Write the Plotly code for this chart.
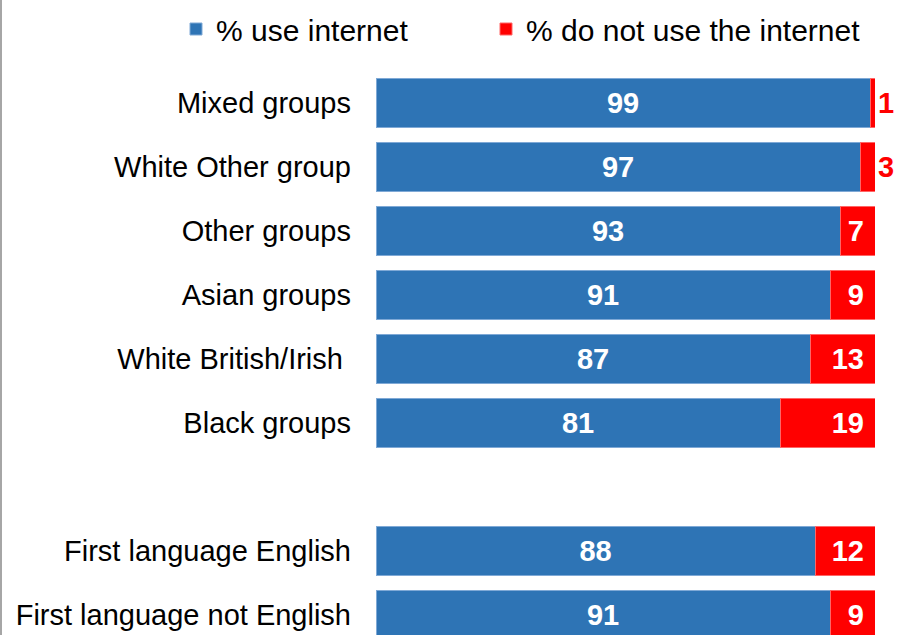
import plotly.graph_objects as go

categories = ["Mixed groups", "White Other group", "Other groups", "Asian groups",
              "White British/Irish\u00a0", "Black groups", " ",
              "First language English", "First language not English"]
use_internet = [99, 97, 93, 91, 87, 81, None, 88, 91]
no_internet = [1, 3, 7, 9, 13, 19, None, 12, 9]
series_names = ["% use internet", "% do not use the internet"]

BLUE = "#2E74B5"
RED = "#FF0000"
FONT = "Liberation Sans, Arial, sans-serif"

red_pos = ["outside" if (v is not None and v < 5) else "inside" for v in no_internet]
red_text = [None if v is None else f"{v}\u00a0" for v in no_internet]
blue_text = [None if v is None else f"{v}" for v in use_internet]

fig = go.Figure()
fig.add_trace(go.Bar(
    y=categories, x=use_internet, orientation="h",
    name=series_names[0], legend="legend",
    marker=dict(color=BLUE, line=dict(color="#7FA9D6", width=1)),
    width=0.78, text=blue_text, textposition="inside", insidetextanchor="middle",
    insidetextfont=dict(family=FONT, size=29, color="white", weight="bold"),
    hoverinfo="skip",
))
fig.add_trace(go.Bar(
    y=categories, x=no_internet, orientation="h", name=series_names[1],
    legend="legend2",
    marker=dict(color=RED, line=dict(color="#FF6666", width=1)),
    width=0.78, text=red_text, textposition=red_pos, insidetextanchor="end",
    insidetextfont=dict(family=FONT, size=29, color="white", weight="bold"),
    outsidetextfont=dict(family=FONT, size=29, color=RED, weight="bold"),
    cliponaxis=False, hoverinfo="skip",
))

legend_common = dict(orientation="h", xanchor="left", xref="container",
                     y=1 - 29 / 635, yanchor="middle", yref="container",
                     font=dict(family=FONT, size=30, color="black"),
                     bgcolor="rgba(0,0,0,0)")

n = len(categories)
fig.update_layout(
    barmode="stack",
    width=898, height=635,
    margin=dict(l=376, r=23, t=71, b=0, autoexpand=False),
    paper_bgcolor="white", plot_bgcolor="white",
    font=dict(family=FONT, size=29, color="black"),
    xaxis=dict(range=[0, 100], visible=False, fixedrange=True),
    yaxis=dict(categoryorder="array", categoryarray=categories,
               range=[n - 1 + 0.3125, -0.5], showgrid=False, zeroline=False,
               showline=False, ticks="", ticklabelstandoff=24,
               tickfont=dict(family=FONT, size=29, color="black")),
    legend=dict(x=176 / 898, **legend_common),
    legend2=dict(x=486 / 898, **legend_common),
    showlegend=True,
    shapes=[dict(type="line", xref="paper", yref="paper",
                 x0=-375 / 499, x1=-375 / 499, y0=-0.1, y1=1.2,
                 line=dict(color="#A6A6A6", width=2))],
)

fig.write_html("out.html")
